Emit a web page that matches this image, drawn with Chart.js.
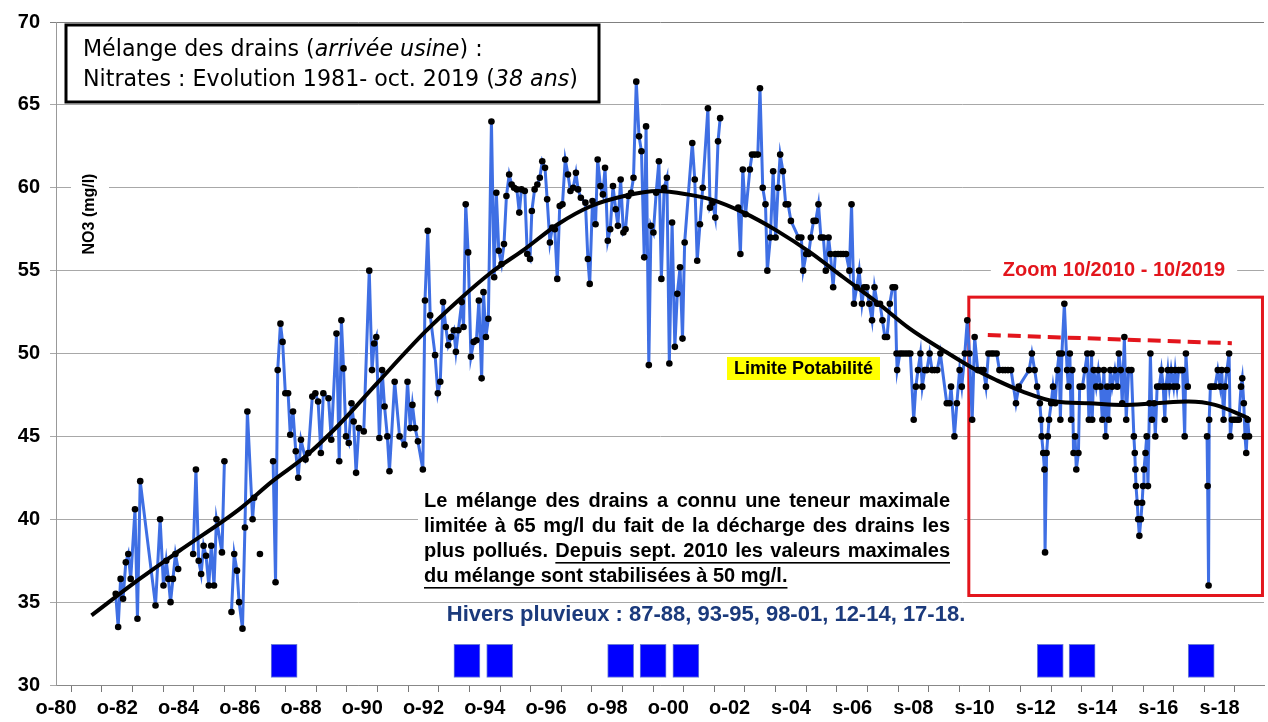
<!DOCTYPE html>
<html>
<head>
<meta charset="utf-8">
<script src="https://cdn.jsdelivr.net/npm/chart.js@4.4.1/dist/chart.umd.min.js"></script>
<style>
  html, body { margin: 0; padding: 0; background: #fff; overflow: hidden; }
</style>
</head>
<body>
<canvas id="chart" width="1268" height="722"></canvas>
<script>
// sampling dates (decimal years) and NO3 values in mg/l, null = gap in the record
const dates = [
  1982.70, 1982.78, 1982.86, 1982.94, 1983.03, 1983.11, 1983.19, 1983.33, 1983.41, 1983.50,
  1984.00, 1984.15, 1984.26, 1984.35, 1984.42, 1984.49, 1984.57, 1984.65, 1984.74, null,
  1985.23, 1985.32, 1985.41, 1985.49, 1985.57, 1985.65, 1985.74, 1985.82, 1985.91, 1985.99,
  1986.17, 1986.25, null, 1986.48, 1986.57, 1986.66, 1986.73, 1986.84, 1986.92, 1987.00,
  1987.17, 1987.22, null, 1987.41, null, 1987.84, 1987.92, 1987.99, 1988.08, 1988.15,
  1988.24, 1988.33, 1988.40, 1988.49, 1988.58, 1988.66, 1988.75, 1988.90, 1988.99, 1989.12,
  1989.22, 1989.31, 1989.40, 1989.48, 1989.65, 1989.74, 1989.91, 1990.00, 1990.07, 1990.14,
  1990.22, 1990.31, 1990.40, 1990.47, 1990.55, 1990.64, 1990.80, 1990.98, 1991.07, 1991.14,
  1991.21, 1991.31, 1991.40, 1991.48, 1991.57, 1991.64, 1991.81, 1991.97, 1992.13, 1992.23,
  1992.32, 1992.39, 1992.48, 1992.57, 1992.73, 1992.80, 1992.89, 1992.97, 1993.13, 1993.22,
  1993.30, 1993.39, 1993.48, 1993.56, 1993.65, 1993.74, 1993.81, 1993.89, 1994.00, 1994.06,
  1994.13, 1994.21, 1994.30, 1994.39, 1994.48, 1994.56, 1994.65, 1994.71, 1994.79, 1994.87,
  1994.97, 1995.06, 1995.13, 1995.21, 1995.30, 1995.38, 1995.46, 1995.55, 1995.63, 1995.71,
  1995.80, 1995.88, 1995.95, 1996.06, 1996.14, 1996.23, 1996.29, 1996.38, 1996.47, 1996.55,
  1996.63, 1996.72, 1996.79, 1996.88, 1996.96, 1997.04, 1997.12, 1997.20, 1997.29, 1997.38,
  1997.47, 1997.55, 1997.64, 1997.73, 1997.80, 1997.89, 1998.04, 1998.12, 1998.18, 1998.27,
  1998.37, 1998.44, 1998.53, 1998.61, 1998.68, 1998.77, 1998.85, 1998.94, 1999.03, 1999.10,
  1999.19, 1999.28, 1999.35, 1999.44, 1999.53, 1999.61, 1999.70, 1999.79, 1999.87, 1999.96,
  2000.02, 2000.11, 2000.18, 2000.26, 2000.35, 2000.44, 2000.52, 2000.61, 2000.70, 2000.78,
  2000.87, 2000.96, 2001.04, 2001.13, 2001.21, 2001.28, 2001.53, 2001.61, 2001.69, 2001.78,
  2001.87, 2002.04, 2002.11, 2002.19, 2002.28, 2002.37, 2002.44, null, 2003.03, 2003.10,
  2003.18, 2003.27, 2003.41, 2003.48, 2003.57, 2003.67, 2003.74, 2003.83, 2003.92, 2003.98,
  2004.08, 2004.17, 2004.25, 2004.33, 2004.40, 2004.49, 2004.58, 2004.66, 2004.75, 2005.00,
  2005.09, 2005.15, 2005.25, 2005.33, 2005.40, 2005.49, 2005.56, 2005.65, 2005.73, 2005.81,
  2005.89, 2005.98, 2006.04, 2006.13, 2006.20, 2006.29, 2006.38, 2006.46, 2006.55, 2006.66,
  2006.73, 2006.81, 2006.90, 2006.98, 2007.07, 2007.14, 2007.22, 2007.31, 2007.40, 2007.48,
  2007.57, 2007.66, 2007.74, 2007.82, 2007.89, 2007.98, 2008.07, 2008.15, 2008.20, 2008.22,
  2008.31, 2008.39, 2008.48, 2008.57, 2008.65, 2008.76, 2008.83, 2008.90, 2008.98, 2009.04,
  2009.12, 2009.19, 2009.28, 2009.36, 2009.44, 2009.53, 2009.63, 2009.84, 2009.93, 2009.98,
  2010.09, 2010.17, 2010.26, 2010.33, 2010.43, 2010.51, 2010.58, 2010.67, 2010.75, 2010.85,
  2010.96, 2011.04, 2011.12, 2011.20, 2011.29, 2011.37, 2011.47, 2011.56, 2011.67, 2011.75,
  2011.84, 2011.94, 2012.10, 2012.19, 2012.53, 2012.62, 2012.71, 2012.79, 2012.88, 2012.92,
  2012.94, 2012.99, 2013.03, 2013.05, 2013.10, 2013.14, 2013.18, 2013.25, 2013.31, 2013.38,
  2013.45, 2013.51, 2013.55, 2013.60, 2013.68, 2013.77, 2013.81, 2013.86, 2013.90, 2013.94,
  2013.98, 2014.03, 2014.07, 2014.14, 2014.18, 2014.27, 2014.35, 2014.43, 2014.48, 2014.57,
  2014.59, 2014.64, 2014.72, 2014.79, 2014.86, 2014.92, 2014.97, 2015.03, 2015.08, 2015.13,
  2015.18, 2015.24, 2015.33, 2015.41, 2015.46, 2015.52, 2015.57, 2015.64, 2015.70, 2015.78,
  2015.87, 2015.95, 2015.98, 2016.00, 2016.02, 2016.06, 2016.09, 2016.13, 2016.18, 2016.22,
  2016.25, 2016.28, 2016.33, 2016.37, 2016.41, 2016.46, 2016.49, 2016.54, 2016.61, 2016.65,
  2016.71, 2016.78, 2016.85, 2016.91, 2016.96, 2017.00, 2017.06, 2017.11, 2017.17, 2017.25,
  2017.30, 2017.36, 2017.41, 2017.48, 2017.54, 2017.61, 2017.65, 2017.71, null, 2018.34,
  2018.36, 2018.39, 2018.41, 2018.45, 2018.52, 2018.60, 2018.69, 2018.77, 2018.82, 2018.88,
  2018.93, 2018.99, 2019.06, 2019.10, 2019.15, 2019.23, 2019.32, 2019.38, 2019.45, 2019.49,
  2019.54, 2019.58, 2019.62, 2019.67, 2019.71
];
const no3 = [
  35.5, 33.5, 36.4, 35.2, 37.4, 37.9, 36.4, 40.6, 34.0, 42.3,
  34.8, 40.0, 36.0, 37.5, 36.4, 35.0, 36.4, 37.9, 37.0, null,
  37.9, 43.0, 37.5, 36.7, 38.4, 37.8, 36.0, 38.4, 36.0, 40.0,
  38.0, 43.5, null, 34.4, 37.9, 36.9, 35.0, 33.4, 39.5, 46.5,
  40.0, 41.3, null, 37.9, null, 43.5, 36.2, 49.0, 51.8, 50.7,
  47.6, 47.6, 45.1, 46.5, 44.1, 42.5, 44.8, 43.6, 44.0, 47.4,
  47.6, 47.1, 44.0, 47.6, 47.3, 44.8, 51.2, 43.5, 52.0, 49.1,
  45.0, 44.6, 47.0, 45.9, 42.8, 45.5, 45.3, 55.0, 49.0, 50.6,
  51.0, 44.9, 49.0, 46.8, 45.0, 42.9, 48.3, 45.0, 44.5, 48.3,
  45.5, 46.9, 45.5, 44.7, 43.0, 53.2, 57.4, 52.3, 49.9, 47.6,
  48.3, 53.1, 51.6, 50.5, 51.0, 51.4, 50.1, 51.4, 53.1, 51.6,
  59.0, 56.1, 49.8, 50.7, 50.8, 53.2, 48.5, 53.7, 51.0, 52.1,
  64.0, 54.6, 59.7, 56.2, 55.4, 56.6, 59.5, 60.8, 60.2, 60.0,
  59.9, 58.5, 59.9, 59.8, 56.0, 55.7, 58.6, 59.9, 60.2, 60.6,
  61.6, 61.2, 59.3, 56.7, 57.6, 57.5, 54.5, 58.9, 59.0, 61.7,
  60.8, 59.8, 60.0, 60.9, 59.9, 59.4, 59.1, 55.7, 54.2, 59.2,
  57.8, 61.7, 60.1, 59.6, 61.2, 56.8, 57.5, 60.1, 58.7, 57.7,
  60.5, 57.3, 57.5, 59.5, 59.7, 60.6, 66.4, 63.1, 62.2, 55.8,
  63.7, 49.3, 57.7, 57.3, 59.7, 61.6, 54.5, 60.0, 60.6, 49.4,
  57.9, 50.4, 53.6, 55.2, 50.9, 56.7, 62.7, 60.5, 55.6, 57.8,
  60.0, 64.8, 58.8, 59.1, 58.2, 62.8, 64.2, null, 58.8, 56.0,
  61.1, 58.4, 61.1, 62, 62, 62, 66, 60, 59, 55,
  57, 61, 57, 60, 62, 61, 59, 59, 58, 57,
  57, 55, 56, 56, 57, 58, 58, 59, 57, 57,
  55, 57, 56, 54, 56, 56, 56, 56, 56, 55,
  59, 53, 54, 55, 53, 54, 54, 53, 52, 54,
  53, 53, 52, 51, 51, 53, 54, 54, 50, 49,
  50, 50, 50, 50, 50, 46, 48, 49, 50, 48,
  49, 49, 50, 49, 49, 49, 50, 47, 47, 48,
  45, 47, 49, 48, 50, 52, 50, 46, 51, 49,
  49, 49, 48, 50, 50, 50, 50, 49, 49, 49,
  49, 49, 47, 48, 49, 50, 49, 48, 47, 46,
  45, 44, 43, 38, 44, 45, 46, 47, 48, 47,
  49, 50, 46, 50, 53, 49, 48, 50, 46, 49,
  44, 45, 43, 44, 48, 48, 49, 50, 46, 50,
  46, 49, 48, 49, 48, 46, 49, 45, 48, 46,
  49, 48, 49, 48, 50, 49, 47, 51, 46, 49,
  49, 45, 44, 43, 42, 41, 40, 39, 40, 41,
  42, 43, 44, 45, 42, 47, 50, 46, 47, 45,
  48, 48, 49, 48, 46, 48, 49, 48, 49, 48,
  49, 48, 49, 49, 49, 45, 50, 48, null, 45,
  42, 36, 46, 48, 48, 48, 49, 48, 49, 46,
  48, 49, 50, 45, 46, 46, 46, 46, 48, 48.5,
  47, 45, 44, 46, 45
];

// long-term trend curve
const trendDates = [
  1981.91, 1983.48, 1984.78, 1986.73, 1987.82, 1988.90, 1989.99, 1991.23, 1992.80, 1993.89,
  1994.97, 1996.06, 1997.14, 1998.23, 1999.31, 2000.39, 2001.37, 2002.13, 2003.21, 2004.30,
  2005.38, 2006.46, 2007.55, 2008.63, 2009.72, 2010.80, 2011.45, 2012.32, 2013.40, 2014.48,
  2015.57, 2016.65, 2017.73, 2018.60, 2019.69
];
const trendValues = [
  34.2, 36.4, 38.1, 40.6, 42.3, 43.8, 45.7, 48.2, 51.3, 53.2,
  54.9, 56.3, 57.8, 58.9, 59.5, 59.8, 59.6, 59.3, 58.5, 57.4,
  56.1, 54.6, 53.1, 51.5, 50.2, 49.0, 48.4, 47.7, 47.1, 47.0,
  46.9, 47.0, 47.1, 46.9, 46.1
];

// rainy winters (bar centres) and the band they occupy on the y scale
const winterDates = [1988.2, 1994.17, 1995.24, 1999.19, 2000.25, 2001.32, 2013.22, 2014.26, 2018.15];
const winterBand = [30.45, 32.45];

// red dashed ceiling since 2010
const ceilingDates = [2011.18, 2019.15];
const ceilingValues = [51.12, 50.62];

// zoom frame 10/2010 - 10/2019 : [x from, x to, y low, y high]
const zoomFrame = [2010.56, 2020.15, 35.4, 53.4];

const xTickLabels = [
  'o-80', 'o-82', 'o-84', 'o-86', 'o-88', 'o-90', 'o-92', 'o-94', 'o-96', 'o-98',
  'o-00', 'o-02', 's-04', 's-06', 's-08', 's-10', 's-12', 's-14', 's-16', 's-18'
];
const xTickStart = 1980.75;

const RED = '#e3151c';
const SANS = '"Liberation Sans", Arial, sans-serif';
Chart.defaults.font.family = SANS;

function drawRuns(ctx, runs, x, y, size, family) {
  let cx = x;
  runs.forEach(r => {
    ctx.font = (r.italic ? 'italic ' : '') + size + 'px ' + family;
    ctx.fillText(r.text, cx, y);
    cx += ctx.measureText(r.text).width;
  });
  return cx - x;
}

function runsWidth(ctx, runs, size, family) {
  let w = 0;
  runs.forEach(r => {
    ctx.font = (r.italic ? 'italic ' : '') + size + 'px ' + family;
    w += ctx.measureText(r.text).width;
  });
  return w;
}

function justified(ctx, text, x, y, width, justify, underlineFrom) {
  const words = text.split(' ');
  const widths = words.map(w => ctx.measureText(w).width);
  const total = widths.reduce((a, b) => a + b, 0);
  const gap = justify ? (width - total) / (words.length - 1) : ctx.measureText(' ').width;
  let cx = x, ulStart = null, ulEnd = null;
  words.forEach((w, i) => {
    ctx.fillText(w, cx, y);
    if (underlineFrom !== null && i >= underlineFrom) {
      if (ulStart === null) ulStart = cx;
      ulEnd = cx + widths[i];
    }
    cx += widths[i] + gap;
  });
  if (ulStart !== null) ctx.fillRect(ulStart, y + 11, ulEnd - ulStart, 1.6);
}

const overlay = {
  id: 'overlay',
  beforeDatasetsDraw(chart) {
    const { ctx, scales: { x, y } } = chart;
    ctx.save();

    // zoom frame
    const fx0 = x.getPixelForValue(zoomFrame[0]);
    const fx1 = x.getPixelForValue(zoomFrame[1]);
    const fy0 = y.getPixelForValue(zoomFrame[3]);
    const fy1 = y.getPixelForValue(zoomFrame[2]);
    ctx.strokeStyle = RED;
    ctx.lineWidth = 3;
    ctx.strokeRect(fx0, fy0, fx1 - fx0, fy1 - fy0);

    // zoom caption
    ctx.font = 'bold 20px ' + SANS;
    ctx.textBaseline = 'middle';
    ctx.textAlign = 'center';
    const cap = 'Zoom 10/2010 - 10/2019';
    const cw = ctx.measureText(cap).width;
    ctx.fillStyle = '#fff';
    ctx.fillRect(1114 - cw / 2 - 12, 258, cw + 24, 24);
    ctx.fillStyle = RED;
    ctx.fillText(cap, 1114, 270);

    // title box
    ctx.fillStyle = '#fff';
    ctx.fillRect(66, 25, 533, 77);
    ctx.strokeStyle = '#000';
    ctx.lineWidth = 3;
    ctx.strokeRect(66, 25, 533, 77);
    const fam = '"DejaVu Sans", "Comic Sans MS", sans-serif';
    const line1 = [{ text: 'Mélange des drains (' }, { text: 'arrivée usine', italic: true }, { text: ') :' }];
    const line2 = [{ text: 'Nitrates : Evolution 1981- oct. 2019 (' }, { text: '38 ans', italic: true }, { text: ')' }];
    const tsize = 20 * 495 / runsWidth(ctx, line2, 20, fam);
    ctx.fillStyle = '#000';
    ctx.textAlign = 'left';
    drawRuns(ctx, line1, 83, 50, tsize, fam);
    drawRuns(ctx, line2, 83, 80, tsize, fam);

    // y axis title
    ctx.save();
    ctx.translate(90, 214);
    ctx.rotate(-Math.PI / 2);
    ctx.fillStyle = '#fff';
    ctx.fillRect(-46, -19, 92, 38);
    ctx.fillStyle = '#000';
    ctx.textAlign = 'center';
    ctx.font = 'bold 16px ' + SANS;
    ctx.fillText('NO3 (mg/l)', 0, 0);
    ctx.restore();

    // drinking-water limit label
    ctx.fillStyle = '#ffff00';
    ctx.fillRect(727, 357, 153, 23);
    ctx.fillStyle = '#000';
    ctx.textAlign = 'center';
    ctx.font = 'bold 18px ' + SANS;
    ctx.fillText('Limite Potabilité', 803.5, 369);

    // comment paragraph
    ctx.fillStyle = '#fff';
    ctx.fillRect(418, 484, 546, 110);
    ctx.fillStyle = '#000';
    ctx.textAlign = 'left';
    ctx.font = 'bold 20px ' + SANS;
    const pw = 526;
    justified(ctx, 'Le mélange des drains a connu une teneur maximale', 424, 501, pw, true, null);
    justified(ctx, 'limitée à 65 mg/l du fait de la décharge des drains les', 424, 526, pw, true, null);
    justified(ctx, 'plus pollués. Depuis sept. 2010 les valeurs maximales', 424, 551, pw, true, 2);
    justified(ctx, 'du mélange sont stabilisées à 50 mg/l.', 424, 576, pw, false, 0);

    // rainy winters caption
    ctx.fillStyle = '#1b3a7c';
    ctx.textAlign = 'center';
    ctx.font = 'bold 22px ' + SANS;
    ctx.fillText('Hivers pluvieux : 87-88, 93-95, 98-01, 12-14, 17-18.', 706, 615);

    ctx.restore();
  }
};

const seriesPoints = dates.map((d, i) => ({ x: d === null ? dates[i - 1] : d, y: no3[i] }));

new Chart(document.getElementById('chart'), {
  type: 'line',
  data: {
    datasets: [
      {
        label: 'Tendance',
        data: trendDates.map((d, i) => ({ x: d, y: trendValues[i] })),
        borderColor: '#000',
        borderWidth: 4,
        pointRadius: 0,
        cubicInterpolationMode: 'monotone',
        order: 0,
      },
      {
        label: 'NO3',
        data: seriesPoints,
        borderColor: '#3f6fe4',
        borderWidth: 3,
        tension: 0,
        spanGaps: false,
        pointRadius: 3.3,
        pointBackgroundColor: '#000',
        pointBorderWidth: 0,
        order: 1,
      },
      {
        label: 'Plafond',
        data: ceilingDates.map((d, i) => ({ x: d, y: ceilingValues[i] })),
        borderColor: RED,
        borderWidth: 4,
        borderDash: [13, 7],
        pointRadius: 0,
        order: 2,
      },
      {
        type: 'bar',
        label: 'Hivers pluvieux',
        data: winterDates.map(d => ({ x: d, y: winterBand })),
        backgroundColor: '#0000ff',
        borderColor: '#6d7fd6',
        borderWidth: 1,
        borderSkipped: false,
        barThickness: 26,
        order: 3,
      },
    ],
  },
  options: {
    responsive: false,
    animation: false,
    layout: { padding: { top: 20, right: 0, bottom: 0, left: 0 } },
    plugins: {
      legend: { display: false },
      tooltip: { enabled: false },
    },
    scales: {
      x: {
        type: 'linear',
        min: xTickStart,
        max: 2020.2,
        offset: false,
        afterBuildTicks: axis => {
          axis.ticks = Array.from({ length: 40 }, (_, k) => ({ value: xTickStart + k }));
        },
        afterFit: scale => { scale.height = 37; },
        ticks: {
          autoSkip: false,
          maxRotation: 0,
          padding: 4,
          color: '#000',
          font: { size: 20, weight: 'bold' },
          callback: (value, index) => (index % 2 === 0 ? xTickLabels[index / 2] : ''),
        },
        grid: { drawOnChartArea: false, tickLength: 7, tickColor: '#777' },
        border: { color: '#888' },
      },
      y: {
        min: 30,
        max: 70,
        afterFit: scale => { scale.width = 56; },
        ticks: {
          stepSize: 5,
          padding: 10,
          color: '#000',
          font: { size: 20, weight: 'bold' },
        },
        grid: {
          color: ctx => (ctx.tick && ctx.tick.value === 70 ? '#808080' : '#a8a8a8'),
          tickLength: 6,
        },
        border: { color: '#999' },
      },
    },
  },
  plugins: [overlay],
});
</script>
</body>
</html>
